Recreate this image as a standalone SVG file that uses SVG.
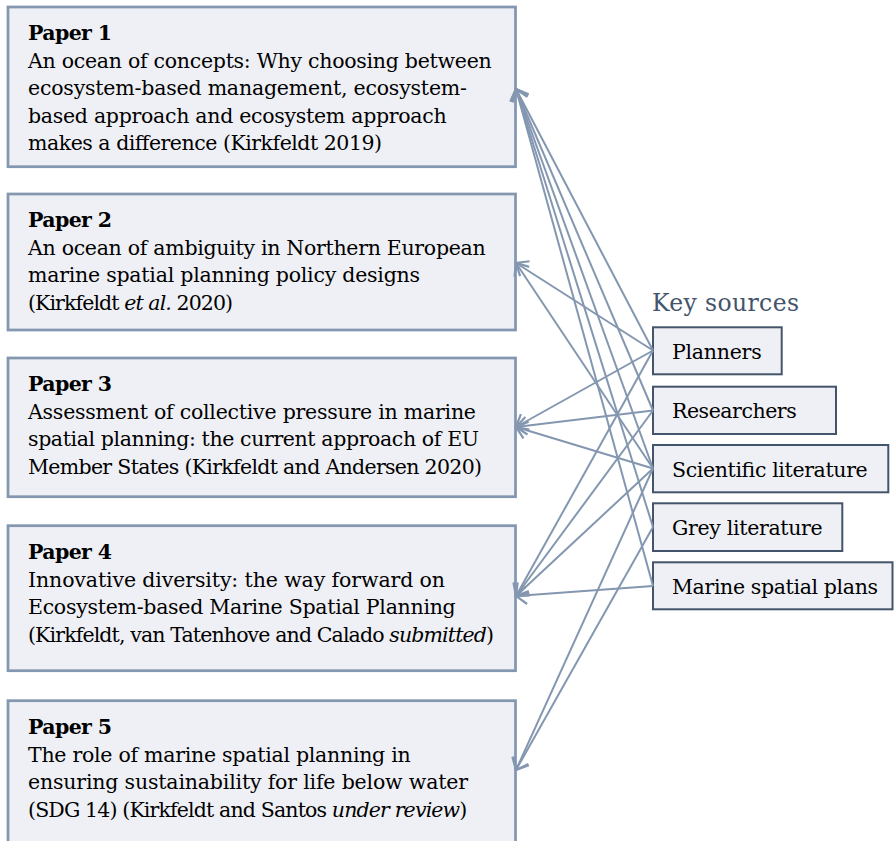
<svg xmlns="http://www.w3.org/2000/svg" width="894" height="841" viewBox="0 0 894 841">
  <style>
    .paper rect { fill: #eff0f5; stroke: #8497b0; stroke-width: 2.75; }
    .source rect { fill: #eff0f5; stroke: #44546a; stroke-width: 2; }
    text { font-family: "DejaVu Serif", "Liberation Serif", serif; font-size: 20.5px; fill: #000; }
    .head { font-weight: bold; }
    .it { font-style: italic; }
    .title { font-size: 23.5px; fill: #44546a; }
    .links line { stroke: #8497b0; stroke-width: 2; fill: none; marker-end: url(#chev); }
  </style>
  <defs>
    <marker id="chev" viewBox="-12 -10 14 20" refX="0" refY="0" markerWidth="14" markerHeight="20" markerUnits="userSpaceOnUse" orient="auto" overflow="visible">
      <path d="M-10.5,-8.8 L0,0 L-10.5,8.8" fill="none" stroke="#8497b0" stroke-width="2.2"/>
    </marker>
  </defs>

  <rect width="894" height="841" fill="#ffffff"/>

  <!-- Papers -->
  <g id="paper1" class="paper">
    <rect x="8" y="7" width="507.5" height="159.7"/>
    <text class="head" x="28" y="40" textLength="84">Paper 1</text>
    <text x="28" y="67.5" textLength="463.7">An ocean of concepts: Why choosing between</text>
    <text x="28" y="95" textLength="439">ecosystem-based management, ecosystem-</text>
    <text x="28" y="122.5" textLength="418.7">based approach and ecosystem approach</text>
    <text x="28" y="150" textLength="354">makes a difference (Kirkfeldt 2019)</text>
  </g>

  <g id="paper2" class="paper">
    <rect x="8" y="194" width="507.5" height="136"/>
    <text class="head" x="28" y="227" textLength="84">Paper 2</text>
    <text x="28" y="254.5" textLength="457.7">An ocean of ambiguity in Northern European</text>
    <text x="28" y="282" textLength="392">marine spatial planning policy designs</text>
    <text x="28" y="309.5" textLength="205">(Kirkfeldt <tspan class="it">et al.</tspan> 2020)</text>
  </g>

  <g id="paper3" class="paper">
    <rect x="8" y="358" width="507.5" height="138.7"/>
    <text class="head" x="28" y="391" textLength="84">Paper 3</text>
    <text x="28" y="418.5" textLength="448">Assessment of collective pressure in marine</text>
    <text x="28" y="446" textLength="451">spatial planning: the current approach of EU</text>
    <text x="28" y="473.5" textLength="454">Member States (Kirkfeldt and Andersen 2020)</text>
  </g>

  <g id="paper4" class="paper">
    <rect x="8" y="525.7" width="507.5" height="145"/>
    <text class="head" x="28" y="559" textLength="84">Paper 4</text>
    <text x="28" y="586.5" textLength="417">Innovative diversity: the way forward on</text>
    <text x="28" y="614" textLength="427.7">Ecosystem-based Marine Spatial Planning</text>
    <text x="28" y="641.5" textLength="466">(Kirkfeldt, van Tatenhove and Calado <tspan class="it">submitted</tspan>)</text>
  </g>

  <g id="paper5" class="paper">
    <rect x="8" y="700.7" width="507.5" height="160"/>
    <text class="head" x="28" y="734" textLength="84">Paper 5</text>
    <text x="28" y="761.5" textLength="382.7">The role of marine spatial planning in</text>
    <text x="28" y="789" textLength="440">ensuring sustainability for life below water</text>
    <text x="28" y="816.5" textLength="439.3">(SDG 14) (Kirkfeldt and Santos <tspan class="it">under review</tspan>)</text>
  </g>

  <!-- Key sources -->
  <text id="key-title" class="title" x="652" y="311" textLength="147">Key sources</text>

  <g id="planners" class="source">
    <rect x="653" y="327.3" width="128.7" height="47"/>
    <text x="672" y="359.3" textLength="89.7">Planners</text>
  </g>
  <g id="researchers" class="source">
    <rect x="653" y="386.7" width="183" height="47.3"/>
    <text x="672" y="418" textLength="124.7">Researchers</text>
  </g>
  <g id="scientific-literature" class="source">
    <rect x="653" y="445" width="235.3" height="47.3"/>
    <text x="672" y="477" textLength="195.7">Scientific literature</text>
  </g>
  <g id="grey-literature" class="source">
    <rect x="653" y="503.3" width="189.3" height="47.7"/>
    <text x="672" y="535" textLength="150.7">Grey literature</text>
  </g>
  <g id="marine-spatial-plans" class="source">
    <rect x="653" y="562.3" width="239.5" height="47"/>
    <text x="672" y="594" textLength="206">Marine spatial plans</text>
  </g>

  <!-- Connectors: source (left edge) to paper (right edge) -->
  <g id="connectors" class="links">
    <!-- Paper 1 -->
    <line x1="653" y1="350.5" x2="516" y2="89"/>
    <line x1="653" y1="410.5" x2="516" y2="89"/>
    <line x1="653" y1="468.5" x2="516" y2="89"/>
    <line x1="653" y1="527" x2="516" y2="89"/>
    <line x1="653" y1="586" x2="516" y2="89"/>
    <!-- Paper 2 -->
    <line x1="653" y1="350.5" x2="516" y2="263"/>
    <line x1="653" y1="468.5" x2="516" y2="263"/>
    <!-- Paper 3 -->
    <line x1="653" y1="350.5" x2="516" y2="427"/>
    <line x1="653" y1="410.5" x2="516" y2="427"/>
    <line x1="653" y1="468.5" x2="516" y2="427"/>
    <!-- Paper 4 -->
    <line x1="653" y1="350.5" x2="516" y2="596"/>
    <line x1="653" y1="410.5" x2="516" y2="596"/>
    <line x1="653" y1="468.5" x2="516" y2="596"/>
    <line x1="653" y1="586" x2="516" y2="596"/>
    <!-- Paper 5 -->
    <line x1="653" y1="468.5" x2="516" y2="770"/>
    <line x1="653" y1="527" x2="516" y2="770"/>
  </g>
</svg>
